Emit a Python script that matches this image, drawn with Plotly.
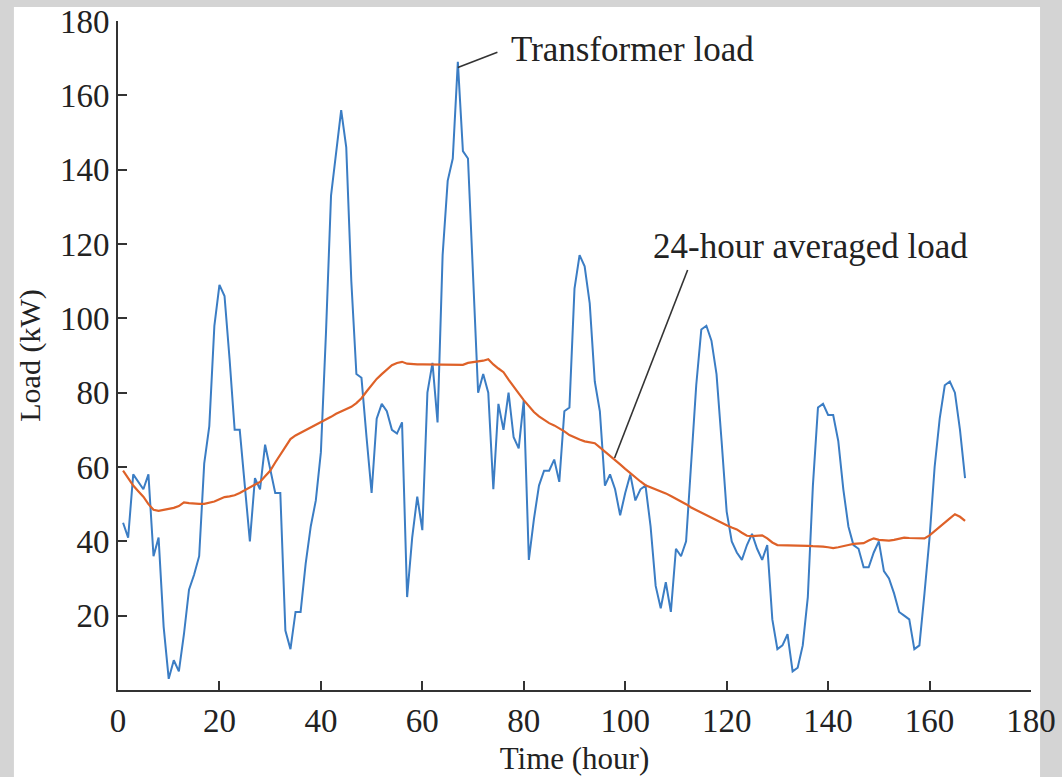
import plotly.graph_objects as go

# Hourly transformer load (kW), hours 1..167
transformer_load = [
    45, 41, 58, 56, 54, 58, 36, 41, 17, 3,
    8, 5, 15, 27, 31, 36, 61, 71, 98, 109,
    106, 89, 70, 70, 54, 40, 57, 54, 66, 59,
    53, 53, 16, 11, 21, 21, 34, 44, 51, 64,
    96, 133, 145, 156, 146, 110, 85, 84, 68, 53,
    73, 77, 75, 70, 69, 72, 25, 41, 52, 43,
    80, 88, 72, 117, 137, 143, 169, 145, 143, 112,
    80, 85, 80, 54, 77, 70, 80, 68, 65, 78,
    35, 46, 55, 59, 59, 62, 56, 75, 76, 108,
    117, 114, 104, 83, 75, 55, 58, 54, 47, 53,
    58, 51, 54, 55, 44, 28, 22, 29, 21, 38,
    36, 40, 61, 82, 97, 98, 94, 85, 67, 48,
    40, 37, 35, 39, 42, 38, 35, 39, 19, 11,
    12, 15, 5, 6, 12, 25, 55, 76, 77, 74,
    74, 67, 54, 44, 39, 38, 33, 33, 37, 40,
    32, 30, 26, 21, 20, 19, 11, 12, 26, 41,
    60, 73, 82, 83, 80, 70, 57,
]

# 24-hour averaged load (kW), hours 1..167
averaged_load = [
    59, 57, 55, 53.5, 52, 50, 48.5, 48.2, 48.5, 48.6,
    49, 49.5, 50.5, 50.3, 50.1, 50.1, 50.1, 50.4, 50.7, 51.3,
    51.9, 52.1, 52.4, 53, 53.8, 54.5, 55.3, 56, 57.5, 59,
    61.2, 63.4, 65.5, 67.5, 68.5, 69.2, 70, 70.5, 71.3, 72,
    72.8, 73.5, 74.3, 75, 75.6, 76.2, 77.2, 78.5, 80.3, 82,
    83.7, 85, 86.3, 87.4, 88, 88.3, 87.8, 87.6, 87.6, 87.6,
    87.6, 87.6, 87.6, 87.6, 87.6, 87.5, 87.4, 87.5, 88, 88.2,
    88.3, 88.6, 89, 87.6, 86.5, 85.5, 83.5, 81.5, 79.8, 78,
    76.5, 74.8, 73.6, 72.6, 71.8, 71.2, 70.5, 69.6, 68.6, 67.9,
    67.4, 66.9, 66.6, 66.4, 65.3, 64.2, 63, 61.9, 60.7, 59.5,
    58.3, 57.2, 56.1, 55.1, 54.6, 54, 53.4, 52.9, 52.2, 51.5,
    50.8, 50, 49.1, 48.4, 47.6, 47, 46.3, 45.6, 44.9, 44.3,
    43.7, 43.2, 42.3, 41.5, 41.4, 41.5, 41.6, 40.8, 39.7, 39,
    39, 39, 39, 38.9, 38.8, 38.8, 38.7, 38.7, 38.6, 38.4,
    38.2, 38.4, 38.8, 39, 39.3, 39.3, 39.5, 40.2, 40.8, 40.4,
    40.2, 40.2, 40.4, 40.8, 41, 40.9, 40.8, 40.8, 40.8, 41.6,
    42.8, 44, 45, 46.2, 47.3, 46.6, 45.5,
]

hours = list(range(1, len(transformer_load) + 1))
hours_avg = list(range(1, len(averaged_load) + 1))

x_ticks = [0, 20, 40, 60, 80, 100, 120, 140, 160, 180]
y_ticks = [20, 40, 60, 80, 100, 120, 140, 160, 180]

FONT = "Liberation Serif"
TXT = "#222222"
AX = "#333333"

fig = go.Figure()
fig.add_trace(go.Scatter(x=hours, y=transformer_load, mode="lines",
                         line=dict(color="#3b7dc4", width=2), name="Transformer load"))
fig.add_trace(go.Scatter(x=hours_avg, y=averaged_load, mode="lines",
                         line=dict(color="#de6128", width=2.2), name="24-hour averaged load"))

shapes = [
    # white page panel over grey frame
    dict(type="rect", xref="paper", yref="paper", x0=-0.114, x1=1.0099, y0=-0.135, y1=1.021,
         fillcolor="white", line=dict(width=0), layer="below"),
    # annotation leader lines
    dict(type="line", xref="x", yref="y", x0=67, y0=167.5, x1=74.8, y1=171.6,
         line=dict(color="#333333", width=1.6)),
    dict(type="line", xref="x", yref="y", x0=97.9, y0=62.4, x1=112.3, y1=113,
         line=dict(color="#333333", width=1.6)),
]

annotations = [
    dict(x=77.0, y=172.2, xref="x", yref="y", text="Transformer load", showarrow=False,
         xanchor="left", yanchor="middle", font=dict(family=FONT, size=35, color=TXT)),
    dict(x=105.0, y=119.2, xref="x", yref="y", text="24-hour averaged load", showarrow=False,
         xanchor="left", yanchor="middle", font=dict(family=FONT, size=35, color=TXT)),
]

fig.update_layout(
    width=1062, height=777,
    margin=dict(l=118, r=31, t=21, b=87),
    paper_bgcolor="#d4d4d4",
    plot_bgcolor="white",
    showlegend=False,
    shapes=shapes,
    annotations=annotations,
    font=dict(family=FONT, size=30, color=TXT),
)
fig.update_xaxes(
    range=[0, 180], tickvals=x_ticks, ticktext=[str(v) for v in x_ticks],
    showline=True, linecolor=AX, linewidth=2, ticks="inside", ticklen=9, tickwidth=2,
    tickcolor=AX, showgrid=False, zeroline=False, automargin=False,
    tickfont=dict(family=FONT, size=33, color=TXT),
    title=dict(text="Time (hour)", font=dict(family=FONT, size=31, color=TXT), standoff=10),
)
fig.update_yaxes(
    range=[0, 180], tickvals=y_ticks, ticktext=[str(v) for v in y_ticks],
    showline=True, linecolor=AX, linewidth=2, ticks="inside", ticklen=9, tickwidth=2,
    tickcolor=AX, showgrid=False, zeroline=False, automargin=False,
    tickfont=dict(family=FONT, size=33, color=TXT),
    title=dict(text="Load (kW)", font=dict(family=FONT, size=30, color=TXT), standoff=10),
)

fig.write_html("out.html")
